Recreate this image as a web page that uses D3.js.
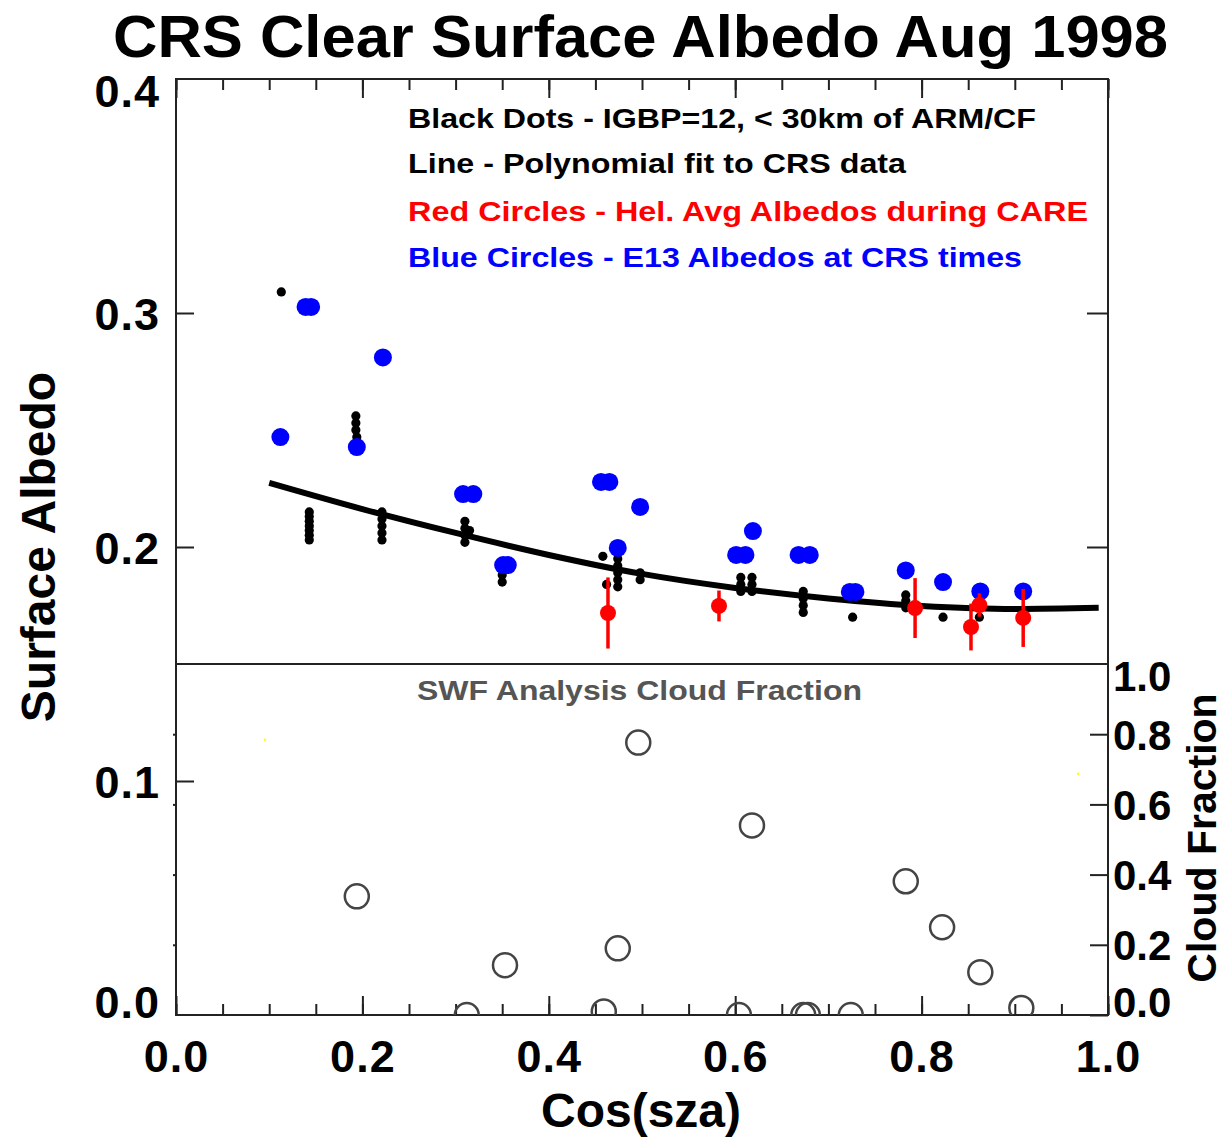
<!DOCTYPE html>
<html lang="en">
<head>
  <meta charset="UTF-8">
  <title>CRS Clear Surface Albedo Aug 1998</title>
  <style>
    body, html {
        margin: 0;
        padding: 0;
        background-color: #FFF;
    }
    svg text {
        font-family: "Liberation Sans", Arial, sans-serif;
        font-weight: bold;
    }
  </style>
</head>
<body>
<svg id="chart" width="1230" height="1141"></svg>

<script src="https://cdnjs.cloudflare.com/ajax/libs/d3/7.8.5/d3.min.js"></script>
<script>
/* global d3 */

// ticks
var xTicks = [0, 0.2, 0.4, 0.6, 0.8, 1.0];
var albedoTicks = [0, 0.1, 0.2, 0.3, 0.4];
var cloudTicks = [0, 0.2, 0.4, 0.6, 0.8, 1.0];

// polynomial fit line
var fitCos = [0.10, 0.20, 0.30, 0.40, 0.50, 0.60, 0.70, 0.80, 0.90, 0.99];
var fitAlb = [0.2274, 0.2162, 0.2060, 0.1966, 0.1885, 0.1825, 0.1780, 0.1748, 0.1735, 0.1740];

// black dots - CRS albedos
var dotCos = [0.113,
  0.143, 0.143, 0.143, 0.143, 0.143, 0.143, 0.143,
  0.193, 0.193, 0.193, 0.194,
  0.221, 0.221, 0.221, 0.221, 0.221,
  0.310, 0.310, 0.310, 0.310, 0.315,
  0.350, 0.350,
  0.458, 0.462,
  0.474, 0.474, 0.474, 0.474, 0.474,
  0.498, 0.498,
  0.606, 0.606, 0.606, 0.618, 0.618, 0.618,
  0.673, 0.673, 0.673, 0.673,
  0.726,
  0.783, 0.783, 0.783,
  0.823, 0.862];
var dotAlb = [0.309,
  0.203, 0.205, 0.207, 0.209, 0.211, 0.213, 0.215,
  0.256, 0.253, 0.250, 0.247,
  0.203, 0.206, 0.209, 0.212, 0.215,
  0.202, 0.205, 0.208, 0.211, 0.207,
  0.185, 0.188,
  0.196, 0.184,
  0.183, 0.186, 0.189, 0.192, 0.195,
  0.186, 0.189,
  0.181, 0.184, 0.187, 0.181, 0.184, 0.187,
  0.172, 0.175, 0.178, 0.181,
  0.170,
  0.174, 0.177, 0.1795,
  0.170, 0.170];

// blue circles - E13 albedos
var blueCos = [0.112, 0.139, 0.145, 0.194, 0.222, 0.308, 0.319, 0.351, 0.356,
  0.456, 0.465, 0.474, 0.498, 0.601, 0.611, 0.619, 0.668, 0.680,
  0.723, 0.729, 0.783, 0.823, 0.863, 0.909];
var blueAlb = [0.247, 0.3026, 0.3026, 0.2427, 0.281, 0.2226, 0.2226, 0.1923, 0.1923,
  0.2278, 0.2278, 0.1996, 0.2171, 0.1966, 0.1966, 0.2068, 0.1966, 0.1966,
  0.1808, 0.1808, 0.190, 0.185, 0.181, 0.181];

// red circles - helicopter averages with error bars
var redCos = [0.4635, 0.5826, 0.793, 0.853, 0.862, 0.909];
var redAlb = [0.1718, 0.1748, 0.1739, 0.1658, 0.1752, 0.1697];
var redErr = [0.0152, 0.0066, 0.0128, 0.0100, 0.0050, 0.0124];

// SWF analysis cloud fraction
var cloudCos = [0.194, 0.496, 0.353, 0.474, 0.618, 0.783, 0.822, 0.863, 0.907,
  0.312, 0.459, 0.604, 0.673, 0.678, 0.724];
var cloudFrac = [0.338, 0.776, 0.142, 0.190, 0.540, 0.381, 0.250, 0.122, 0.020,
  0.0, 0.01, 0.0, 0.0, 0.0, 0.0];

// two stray yellow specks
var yellowCos = [0.0955, 0.968];
var yellowFrac = [0.784, 0.6875];

var svg = d3.select("#chart"),
  L = 176, R = 1108, T = 79, B = 1015,
  x = d3.scaleLinear().domain([0, 1]).range([L, R]),
  y = d3.scaleLinear().domain([0, 0.4]).range([B, T]),
  yc = d3.scaleLinear().domain([0, 1]).range([B, y(0.15)]),
  axisColor = "#222";

svg.append("defs").append("clipPath").attr("id", "clip")
  .append("rect").attr("x", L).attr("y", T).attr("width", R - L).attr("height", B - T);

// title
svg.append("text")
  .attr("x", 113).attr("y", 57)
  .attr("textLength", 1055).attr("lengthAdjust", "spacingAndGlyphs")
  .style("font-size", "60px")
  .text("CRS Clear Surface Albedo Aug 1998");

function styleAxis(g, size) {
  g.select(".domain").remove();
  g.selectAll("line").attr("stroke", axisColor).attr("stroke-width", 2);
  g.selectAll("text").style("font-size", size + "px").attr("fill", "#000")
    .style("font-family", "'Liberation Sans', Arial, sans-serif")
    .style("font-weight", "bold").style("letter-spacing", "1px");
}

// x axes bottom and top: minor every 0.05, major every 0.2
var minorX = d3.range(0, 1.0001, 0.05);
svg.append("g").attr("transform", "translate(0," + B + ")")
  .call(d3.axisBottom(x).tickValues(minorX).tickSizeInner(-11).tickSizeOuter(0).tickFormat(""))
  .call(styleAxis, 45);
svg.append("g").attr("transform", "translate(0," + B + ")")
  .call(d3.axisBottom(x).tickValues(xTicks).tickSizeInner(-19).tickSizeOuter(0)
    .tickPadding(25).tickFormat(d3.format(".1f")))
  .call(styleAxis, 45);
svg.append("g").attr("transform", "translate(0," + T + ")")
  .call(d3.axisTop(x).tickValues(minorX).tickSizeInner(-11).tickSizeOuter(0).tickFormat(""))
  .call(styleAxis, 45);
svg.append("g").attr("transform", "translate(0," + T + ")")
  .call(d3.axisTop(x).tickValues(xTicks).tickSizeInner(-19).tickSizeOuter(0).tickFormat(""))
  .call(styleAxis, 45);

// left albedo axis
var leftAx = svg.append("g").attr("transform", "translate(" + L + ",0)")
  .call(d3.axisLeft(y).tickValues(albedoTicks).tickSizeInner(-18).tickSizeOuter(0)
    .tickPadding(16).tickFormat(d3.format(".1f")))
  .call(styleAxis, 45);
leftAx.selectAll(".tick").filter(function (d) { return d === 0 || d === 0.4; })
  .select("line").remove();
leftAx.selectAll(".tick text").attr("dy", function (d) {
  return d === 0.4 ? "0.62em" : d === 0 ? "0.05em" : "0.36em";
});
// tiny cloud-fraction ticks outside the left edge
svg.append("g").attr("transform", "translate(" + L + ",0)")
  .call(d3.axisLeft(yc).tickValues([0.2, 0.4, 0.6, 0.8]).tickSizeInner(3).tickSizeOuter(0).tickFormat(""))
  .call(styleAxis, 45);

// right side: albedo ticks in upper part, cloud fraction axis in lower part
svg.append("g").attr("transform", "translate(" + R + ",0)")
  .call(d3.axisRight(y).tickValues([0.2, 0.3]).tickSizeInner(-21).tickSizeOuter(0).tickFormat(""))
  .call(styleAxis, 45);
var rightAx = svg.append("g").attr("transform", "translate(" + R + ",0)")
  .call(d3.axisRight(yc).tickValues(cloudTicks).tickSizeInner(-18).tickSizeOuter(0)
    .tickPadding(5).tickFormat(d3.format(".1f")))
  .call(styleAxis, 42);
rightAx.selectAll(".tick").filter(function (d) { return d === 1; }).select("line").remove();
rightAx.selectAll(".tick text").style("letter-spacing", "0px").attr("dy", function (d) {
  return d === 1 ? "0.62em" : d === 0 ? "0.04em" : "0.36em";
});

// frame and panel divider
svg.append("rect").attr("x", L).attr("y", T).attr("width", R - L).attr("height", B - T)
  .attr("fill", "none").attr("stroke", axisColor).attr("stroke-width", 2);
svg.append("line").attr("x1", L).attr("x2", R).attr("y1", y(0.15)).attr("y2", y(0.15))
  .attr("stroke", axisColor).attr("stroke-width", 2);

// axis titles
svg.append("text")
  .attr("transform", "translate(55," + 547 + ") rotate(-90)")
  .attr("text-anchor", "middle")
  .style("font-size", "48px")
  .text("Surface Albedo");
svg.append("text")
  .attr("x", 641).attr("y", 1127)
  .attr("text-anchor", "middle")
  .style("font-size", "48px")
  .text("Cos(sza)");
svg.append("text")
  .attr("transform", "translate(1216," + 838 + ") rotate(-90)")
  .attr("text-anchor", "middle")
  .style("font-size", "41px")
  .text("Cloud Fraction");

// legend
var legend = [
  {t: "Black Dots - IGBP=12, < 30km of ARM/CF", c: "#000", w: 628, yy: 128},
  {t: "Line - Polynomial fit to CRS data", c: "#000", w: 498, yy: 173},
  {t: "Red Circles - Hel. Avg Albedos during CARE", c: "#F00", w: 680, yy: 221},
  {t: "Blue Circles - E13 Albedos at CRS times", c: "#00F", w: 614, yy: 267}
];
svg.selectAll(".legend").data(legend).enter().append("text")
  .attr("class", "legend")
  .attr("x", 408).attr("y", function (d) { return d.yy; })
  .attr("textLength", function (d) { return d.w; })
  .attr("lengthAdjust", "spacingAndGlyphs")
  .attr("fill", function (d) { return d.c; })
  .style("font-size", "28px")
  .text(function (d) { return d.t; });

svg.append("text")
  .attr("x", 417).attr("y", 700)
  .attr("textLength", 445).attr("lengthAdjust", "spacingAndGlyphs")
  .attr("fill", "#555")
  .style("font-size", "28px")
  .text("SWF Analysis Cloud Fraction");

var plot = svg.append("g").attr("clip-path", "url(#clip)");

// cloud fraction open circles
plot.selectAll(".cf").data(d3.range(cloudCos.length)).enter().append("circle")
  .attr("class", "cf")
  .attr("cx", function (i) { return x(cloudCos[i]); })
  .attr("cy", function (i) { return yc(cloudFrac[i]); })
  .attr("r", 12)
  .attr("fill", "none").attr("stroke", "#444").attr("stroke-width", 2.5);

plot.selectAll(".yl").data(d3.range(yellowCos.length)).enter().append("circle")
  .attr("cx", function (i) { return x(yellowCos[i]); })
  .attr("cy", function (i) { return yc(yellowFrac[i]); })
  .attr("r", 1.2).attr("fill", "#FF0");

// black dots
plot.selectAll(".dot").data(d3.range(dotCos.length)).enter().append("circle")
  .attr("class", "dot")
  .attr("cx", function (i) { return x(dotCos[i]); })
  .attr("cy", function (i) { return y(dotAlb[i]); })
  .attr("r", 4.6).attr("fill", "#000");

// fit line
plot.append("path")
  .datum(d3.range(fitCos.length))
  .attr("fill", "none").attr("stroke", "#000").attr("stroke-width", 6)
  .attr("d", d3.line()
    .x(function (i) { return x(fitCos[i]); })
    .y(function (i) { return y(fitAlb[i]); })
    .curve(d3.curveMonotoneX));

// blue circles
plot.selectAll(".blue").data(d3.range(blueCos.length)).enter().append("circle")
  .attr("class", "blue")
  .attr("cx", function (i) { return x(blueCos[i]); })
  .attr("cy", function (i) { return y(blueAlb[i]); })
  .attr("r", 9).attr("fill", "#00F");

// red circles with error bars
var red = plot.selectAll(".red").data(d3.range(redCos.length)).enter().append("g");
red.append("line")
  .attr("x1", function (i) { return x(redCos[i]); })
  .attr("x2", function (i) { return x(redCos[i]); })
  .attr("y1", function (i) { return y(redAlb[i] + redErr[i]); })
  .attr("y2", function (i) { return y(redAlb[i] - redErr[i]); })
  .attr("stroke", "#F00").attr("stroke-width", 3.5);
red.append("circle")
  .attr("cx", function (i) { return x(redCos[i]); })
  .attr("cy", function (i) { return y(redAlb[i]); })
  .attr("r", 8).attr("fill", "#F00");
</script>
</body>
</html>
